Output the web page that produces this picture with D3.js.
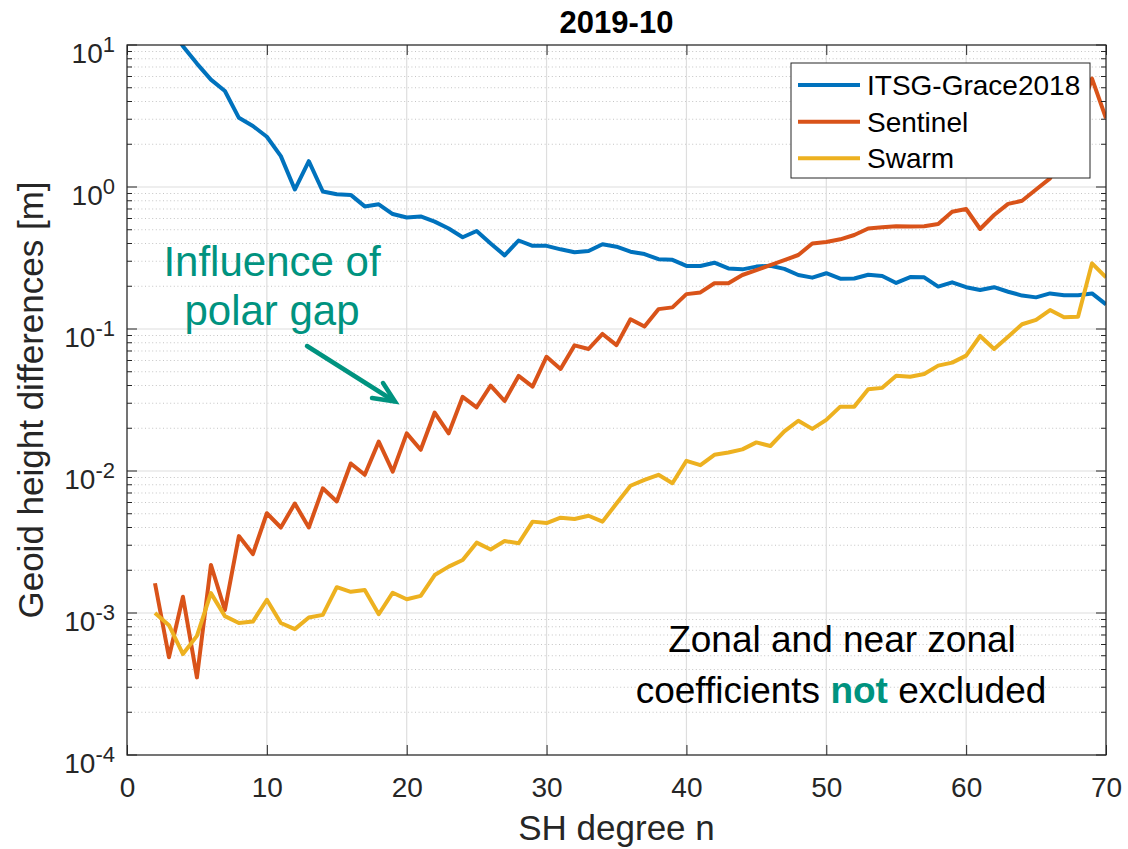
<!DOCTYPE html>
<html>
<head>
<meta charset="utf-8">
<script src="https://cdn.jsdelivr.net/npm/d3@7"></script>
<style>
  html, body { margin: 0; padding: 0; background: #ffffff; }
  svg { display: block; font-family: "Liberation Sans", Arial, Helvetica, sans-serif; }
</style>
</head>
<body>
<svg id="chart" width="1128" height="849"></svg>
<script>
// ---------------- data ----------------
const degrees = d3.range(2, 71); // SH degree n = 2..70

const itsgGrace2018 = [
  20, 14, 9.8, 7.4, 5.7, 4.74, 3.07, 2.69, 2.26, 1.65,
  0.96, 1.52, 0.93, 0.89, 0.88, 0.73, 0.755, 0.645, 0.61, 0.62,
  0.57, 0.51, 0.443, 0.49, 0.40, 0.33, 0.42, 0.385, 0.385, 0.364,
  0.347, 0.354, 0.395, 0.38, 0.35, 0.337, 0.31, 0.307, 0.278, 0.278,
  0.293, 0.267, 0.263, 0.275, 0.279, 0.265, 0.24, 0.23, 0.247, 0.226,
  0.227, 0.241, 0.236, 0.211, 0.232, 0.231, 0.199, 0.213, 0.197, 0.188,
  0.197, 0.183, 0.172, 0.167, 0.178, 0.173, 0.173, 0.178, 0.149
];

const sentinel = [
  0.00162, 0.000488, 0.0013, 0.000352, 0.00218, 0.00105, 0.00348, 0.0026, 0.00504, 0.0040,
  0.0059, 0.0040, 0.00755, 0.0061, 0.0113, 0.0094, 0.0161, 0.0099, 0.0184, 0.0141,
  0.0258, 0.0184, 0.0333, 0.0281, 0.0399, 0.0311, 0.0467, 0.0393, 0.0638, 0.0523,
  0.0767, 0.0723, 0.0923, 0.077, 0.117, 0.104, 0.138, 0.142, 0.176, 0.181,
  0.21, 0.21, 0.24, 0.26, 0.282, 0.306, 0.332, 0.40, 0.41, 0.428,
  0.459, 0.51, 0.52, 0.53, 0.527, 0.53, 0.548, 0.67, 0.70, 0.506,
  0.635, 0.76, 0.80, 0.96, 1.15, 1.8, 3.0, 5.8, 3.05
];

const swarm = [
  0.001, 0.00082, 0.000514, 0.00069, 0.00138, 0.00095, 0.00085, 0.00087, 0.00124, 0.00085,
  0.00077, 0.00093, 0.00097, 0.00152, 0.00141, 0.00145, 0.00098, 0.00139, 0.00125, 0.00132,
  0.00185, 0.00212, 0.00236, 0.00313, 0.0028, 0.00321, 0.0031, 0.0044, 0.0043, 0.00469,
  0.00459, 0.00484, 0.0044, 0.0059, 0.00787, 0.00865, 0.0094, 0.0082, 0.0118, 0.011,
  0.013, 0.0135, 0.0142, 0.0159, 0.015, 0.019, 0.0226, 0.0198, 0.0229, 0.0284,
  0.0284, 0.0376, 0.0385, 0.0469, 0.0461, 0.0482, 0.0552, 0.058, 0.0649, 0.0893,
  0.0723, 0.0883, 0.108, 0.116, 0.136, 0.121, 0.122, 0.29, 0.231
];

const seriesNames = ["ITSG-Grace2018", "Sentinel", "Swarm"];
const seriesColors = ["#0072BD", "#D95319", "#EDB120"];
const xTickValues = [0, 10, 20, 30, 40, 50, 60, 70];
const yTickExponents = [-4, -3, -2, -1, 0, 1];
const titleText = "2019-10";
const xLabelText = "SH degree n";
const yLabelText = "Geoid height differences [m]";

// ---------------- layout ----------------
const L = 127, R = 1106, T = 45, B = 755;
const FONT = '"Liberation Sans", Arial, Helvetica, sans-serif';
const svg = d3.select("#chart");

const x = d3.scaleLinear().domain([0, 70]).range([L, R]);
const y = d3.scaleLog().domain([1e-4, 10]).range([B, T]);

// minor values
const minorVals = [];
yTickExponents.slice(0, -1).forEach(e => {
  for (let k = 2; k <= 9; k++) minorVals.push(k * Math.pow(10, e));
});

// ---------------- grid ----------------
const grid = svg.append("g");
grid.selectAll("line.minor").data(minorVals).enter().append("line")
  .attr("x1", L).attr("x2", R)
  .attr("y1", d => y(d)).attr("y2", d => y(d))
  .attr("stroke", "#c4c4c4").attr("stroke-width", 1)
  .attr("stroke-dasharray", "1,2.6");
grid.selectAll("line.majy").data(yTickExponents.map(e => Math.pow(10, e))).enter().append("line")
  .attr("x1", L).attr("x2", R)
  .attr("y1", d => y(d)).attr("y2", d => y(d))
  .attr("stroke", "#dedede").attr("stroke-width", 1.2);
grid.selectAll("line.majx").data(xTickValues).enter().append("line")
  .attr("x1", d => x(d)).attr("x2", d => x(d))
  .attr("y1", T).attr("y2", B)
  .attr("stroke", "#dedede").attr("stroke-width", 1.2);

// ---------------- lines ----------------
svg.append("defs").append("clipPath").attr("id", "plotclip")
  .append("rect").attr("x", L).attr("y", T).attr("width", R - L).attr("height", B - T);

const allSeries = [itsgGrace2018, sentinel, swarm];
const lineGen = d3.line().x((d, i) => x(degrees[i])).y(d => y(d));
const linesG = svg.append("g").attr("clip-path", "url(#plotclip)");
allSeries.forEach((s, i) => {
  linesG.append("path").datum(s)
    .attr("d", lineGen)
    .attr("fill", "none")
    .attr("stroke", seriesColors[i])
    .attr("stroke-width", 4)
    .attr("stroke-linejoin", "round");
});

// ---------------- axes ----------------
const axisColor = "#262626";
const xAxis = d3.axisBottom(x).tickValues(xTickValues).tickSizeInner(-10).tickSizeOuter(0).tickPadding(22).tickFormat(d3.format("d"));
const gx = svg.append("g").attr("transform", `translate(0,${B})`).call(xAxis);
gx.select(".domain").remove();
gx.selectAll(".tick line").attr("stroke", axisColor).attr("stroke-width", 1);
gx.selectAll(".tick text").attr("fill", axisColor).attr("font-size", 28).attr("font-family", FONT);

const xAxisTop = d3.axisTop(x).tickValues(xTickValues).tickSizeInner(-10).tickSizeOuter(0).tickFormat("");
const gxt = svg.append("g").attr("transform", `translate(0,${T})`).call(xAxisTop);
gxt.select(".domain").remove();
gxt.selectAll(".tick line").attr("stroke", axisColor).attr("stroke-width", 1);

// y ticks (major + minor, both sides)
const yt = svg.append("g");
yTickExponents.forEach(e => {
  const yy = y(Math.pow(10, e));
  yt.append("line").attr("x1", L).attr("x2", L + 10).attr("y1", yy).attr("y2", yy).attr("stroke", axisColor);
  yt.append("line").attr("x1", R).attr("x2", R - 10).attr("y1", yy).attr("y2", yy).attr("stroke", axisColor);
  const t = yt.append("text").attr("x", 115).attr("y", yy + 18)
    .attr("text-anchor", "end").attr("fill", axisColor).attr("font-family", FONT).attr("font-size", 28);
  t.append("tspan").text("10");
  t.append("tspan").attr("dy", -11).attr("font-size", 22).text(String(e));
});
minorVals.forEach(v => {
  const yy = y(v);
  yt.append("line").attr("x1", L).attr("x2", L + 5).attr("y1", yy).attr("y2", yy).attr("stroke", axisColor);
  yt.append("line").attr("x1", R).attr("x2", R - 5).attr("y1", yy).attr("y2", yy).attr("stroke", axisColor);
});

// box
svg.append("rect").attr("x", L).attr("y", T).attr("width", R - L).attr("height", B - T)
  .attr("fill", "none").attr("stroke", axisColor).attr("stroke-width", 1.2);

// ---------------- labels ----------------
svg.append("text").attr("x", (L + R) / 2).attr("y", 33)
  .attr("text-anchor", "middle").attr("font-weight", "bold").attr("font-size", 31)
  .attr("fill", "#000").text(titleText);

svg.append("text").attr("x", (L + R) / 2).attr("y", 840)
  .attr("text-anchor", "middle").attr("font-size", 35).attr("fill", axisColor).text(xLabelText);

svg.append("text").attr("transform", `translate(43,${(T + B) / 2}) rotate(-90)`)
  .attr("text-anchor", "middle").attr("font-size", 35).attr("fill", axisColor).text(yLabelText);

// ---------------- legend ----------------
const lg = svg.append("g");
lg.append("rect").attr("x", 791).attr("y", 63).attr("width", 299).attr("height", 115)
  .attr("fill", "#fff").attr("stroke", axisColor).attr("stroke-width", 1);
const rowY = [85, 121.7, 158.3];
seriesNames.forEach((name, i) => {
  lg.append("line").attr("x1", 798).attr("x2", 860).attr("y1", rowY[i]).attr("y2", rowY[i])
    .attr("stroke", seriesColors[i]).attr("stroke-width", 4);
  lg.append("text").attr("x", 867).attr("y", rowY[i] + 10).attr("font-size", 28)
    .attr("fill", "#000").text(name);
});

// ---------------- annotations ----------------
const teal = "#00937F";
const ann = svg.append("g");
ann.append("text").attr("x", 272).attr("y", 276).attr("text-anchor", "middle")
  .attr("font-size", 42).attr("fill", teal).text("Influence of");
ann.append("text").attr("x", 272).attr("y", 325).attr("text-anchor", "middle")
  .attr("font-size", 42).attr("fill", teal).text("polar gap");
ann.append("line").attr("x1", 307).attr("y1", 346).attr("x2", 394).attr("y2", 401)
  .attr("stroke", teal).attr("stroke-width", 4.5).attr("stroke-linecap", "round");
ann.append("polyline").attr("points", "383,383 395,401.5 372,398")
  .attr("fill", "none").attr("stroke", teal).attr("stroke-width", 4.5)
  .attr("stroke-linejoin", "miter").attr("stroke-linecap", "round");

ann.append("text").attr("x", 842).attr("y", 652).attr("text-anchor", "middle")
  .attr("font-size", 37).attr("fill", "#000").text("Zonal and near zonal");
const t2 = ann.append("text").attr("x", 841).attr("y", 703).attr("text-anchor", "middle")
  .attr("font-size", 37).attr("fill", "#000");
t2.append("tspan").text("coefficients ");
t2.append("tspan").attr("font-weight", "bold").attr("fill", teal).text("not");
t2.append("tspan").text(" excluded");
</script>
</body>
</html>
